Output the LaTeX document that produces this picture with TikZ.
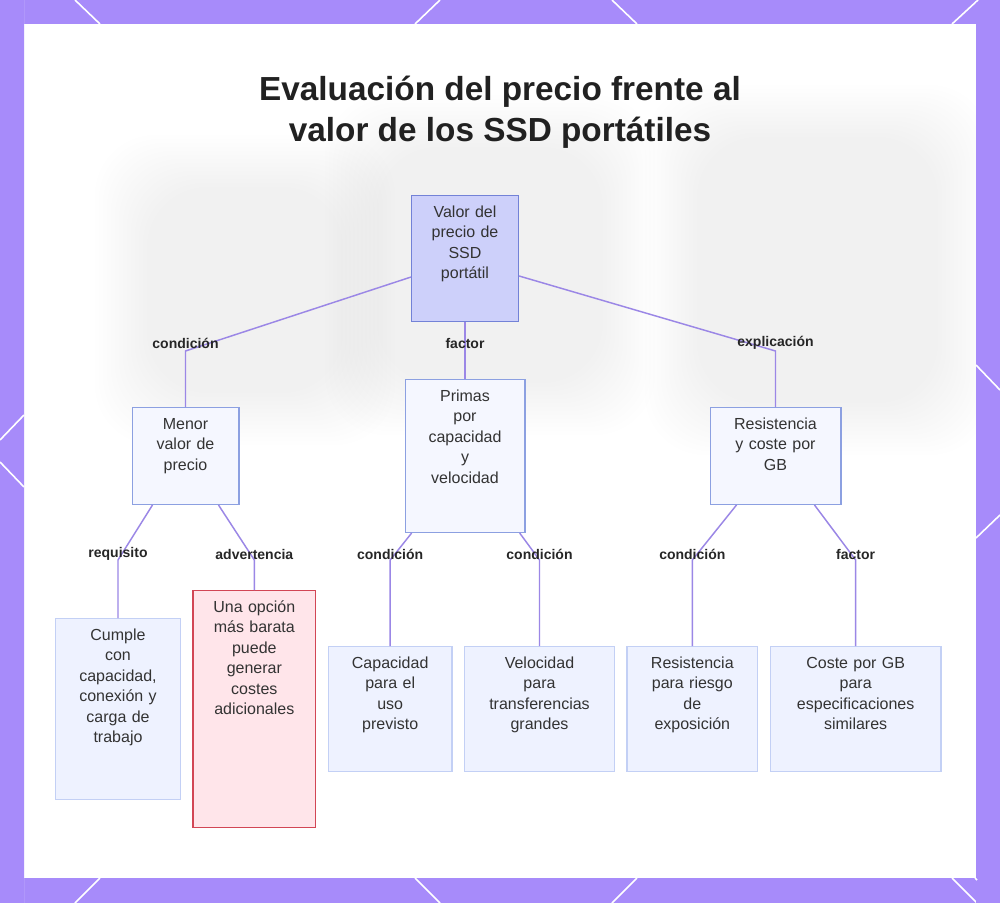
\documentclass[tikz,border=0pt]{standalone}
\usepackage{fontspec}
\setmainfont{Liberation Sans}
\usetikzlibrary{positioning}

\definecolor{framepurple}{RGB}{167,139,250}
\definecolor{linkcol}{RGB}{155,135,230}
\definecolor{rootfill}{RGB}{205,208,250}
\definecolor{rootdraw}{RGB}{115,130,215}
\definecolor{midfill}{RGB}{245,247,255}
\definecolor{middraw}{RGB}{140,160,225}
\definecolor{leaffill}{RGB}{238,242,255}
\definecolor{leafdraw}{RGB}{195,208,245}
\definecolor{warnfill}{RGB}{255,229,234}
\definecolor{warndraw}{RGB}{210,70,85}
\definecolor{textcol}{RGB}{51,51,51}

\begin{document}
\begin{tikzpicture}[
    x=0.75pt, y=-0.75pt,
    node distance=8.5pt,
    base/.style={align=center, inner xsep=2pt, inner ysep=7pt, text height=9pt, line width=1pt, text=textcol, font=\fontsize{12}{15.4}\selectfont},
    rootbox/.style={base, draw=rootdraw, fill=rootfill},
    midbox/.style={base, draw=middraw, fill=midfill},
    leafbox/.style={base, draw=leafdraw, fill=leaffill},
    warnbox/.style={base, draw=warndraw, fill=warnfill},
    link/.style={draw=linkcol, line width=1.1pt},
    elbl/.style={font=\bfseries\fontsize{10.5}{12}\selectfont, text=black!85, inner sep=1pt},
    ttl/.style={font=\bfseries\fontsize{25}{30.75}\selectfont, align=center, text=black!87},
    frameline/.style={draw=white, line width=1.2pt}
]
\useasboundingbox (0,0) rectangle (1000,903);

% frame
\fill[framepurple] (0,0) rectangle (1000,903);
\draw[frameline] (75,0) -- (100,24) (440,0) -- (415,24) (612,0) -- (637,24) (978,0) -- (952,24)
    (100,878) -- (75,903) (415,878) -- (440,903) (612,903) -- (637,878) (952,878) -- (977,903)
    (24,415) -- (0,440) (0,462) -- (24,487) (976,365) -- (1000,390) (976,538) -- (1000,515);
\fill[white] (24,24) rectangle (976,878);

% faded backdrop
\foreach \k in {0,...,13} {
  \fill[black, opacity=0.0045, rounded corners=45pt] (95+4*\k,135+4*\k) rectangle (395-4*\k,445-4*\k);
  \fill[black, opacity=0.0045, rounded corners=45pt] (325+4*\k,95+4*\k) rectangle (655-4*\k,435-4*\k);
  \fill[black, opacity=0.0045, rounded corners=45pt] (645+4*\k,85+4*\k) rectangle (990-4*\k,455-4*\k);
}
\fill[white] (0,0) rectangle (24,903) (976,0) rectangle (1000,903);
\fill[framepurple] (0,0) rectangle (24,903) (976,0) rectangle (1000,903);
\draw[frameline] (24,415) -- (0,440) (0,462) -- (24,487) (976,365) -- (1000,390) (976,538) -- (1000,515)
    (978,0) -- (976,2) (975,878) -- (977,880);

% title
\node[ttl] (title) at (500,112) {Evaluación del precio frente al\\valor de los SSD portátiles};

% top
\node[rootbox, text width=76pt, text depth=71.25pt] (root) at (465,258.5) {Valor del\\precio de\\SSD\\portátil};

% middle row
\node[midbox, text width=85.75pt, text depth=91.5pt, below=42.75pt of root] (primas) {Primas\\por\\capacidad\\y\\velocidad};
\node[midbox, text width=76pt, text depth=49.5pt, left=123.75pt of primas] (menor) {Menor\\valor de\\precio};
\node[midbox, text width=94pt, text depth=49.5pt, right=138pt of primas] (resist) {Resistencia\\y coste por\\GB};

% bottom row
\node[leafbox, text width=89.5pt, text depth=112.5pt] (cumple) at (118,709) {Cumple\\con\\capacidad,\\conexión y\\carga de\\trabajo};
\node[warnbox, text width=88pt, text depth=154.5pt, right=of cumple] (opcion) {Una opción\\más barata\\puede\\generar\\costes\\adicionales};
\node[leafbox, text width=88.75pt, text depth=70.5pt, right=of opcion] (capac) {Capacidad\\para el\\uso\\previsto};
\node[leafbox, text width=108.25pt, text depth=70.5pt, right=of capac] (veloc) {Velocidad\\para\\transferencias\\grandes};
\node[leafbox, text width=94pt, text depth=70.5pt, right=of veloc] (riesgo) {Resistencia\\para riesgo\\de\\exposición};
\node[leafbox, text width=124pt, text depth=70.5pt, right=of riesgo] (coste) {Coste por GB\\para\\especificaciones\\similares};

% links
\coordinate (yup) at (0,351);
\coordinate (ylow) at (0,560);
\draw[link] ([yshift=-13.9pt]root.west) -- (menor.north |- yup) -- (menor.north);
\draw[link] (root.south) -- (primas.north);
\draw[link] ([yshift=-13.1pt]root.east) -- (resist.north |- yup) -- (resist.north);
\draw[link] ([xshift=-24.75pt]menor.south) -- (cumple.north |- ylow) -- (cumple.north);
\draw[link] ([xshift=24.75pt]menor.south) -- (opcion.north |- ylow) -- (opcion.north);
\draw[link] ([xshift=-40pt]primas.south) -- (capac.north |- ylow) -- (capac.north);
\draw[link] ([xshift=41pt]primas.south) -- (veloc.north |- ylow) -- (veloc.north);
\draw[link] ([xshift=-29.25pt]resist.south) -- (riesgo.north |- ylow) -- (riesgo.north);
\draw[link] ([xshift=29.25pt]resist.south) -- (coste.north |- ylow) -- (coste.north);

% link labels
\node[elbl, yshift=6pt] (l1) at (menor.north |- yup) {condición};
\node[elbl, yshift=6pt] (l2) at (root.south |- yup) {factor};
\node[elbl, yshift=6pt] (l3) at (resist.north |- yup) {explicación};
\node[elbl, yshift=4.5pt] (l4) at (cumple.north |- ylow) {requisito};
\node[elbl, yshift=4.5pt] (l5) at (opcion.north |- ylow) {advertencia};
\node[elbl, yshift=4.5pt] (l6) at (capac.north |- ylow) {condición};
\node[elbl, yshift=4.5pt] (l7) at (veloc.north |- ylow) {condición};
\node[elbl, yshift=4.5pt] (l8) at (riesgo.north |- ylow) {condición};
\node[elbl, yshift=4.5pt] (l9) at (coste.north |- ylow) {factor};
\end{tikzpicture}
\end{document}
